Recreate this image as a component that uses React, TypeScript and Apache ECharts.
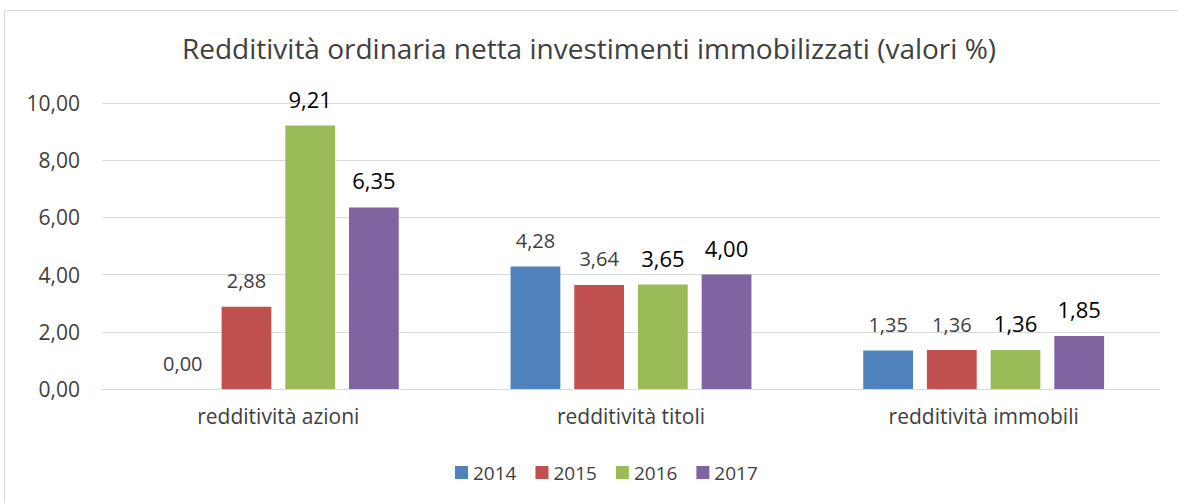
import React, { useEffect, useRef } from "react";
import * as echarts from "echarts";

const categories = ["redditività azioni", "redditività titoli", "redditività immobili"];
const years = ["2014", "2015", "2016", "2017"];
const values2014 = [0.0, 4.28, 1.35];
const values2015 = [2.88, 3.64, 1.36];
const values2016 = [9.21, 3.65, 1.36];
const values2017 = [6.35, 4.0, 1.85];
const colors = ["#4f81bd", "#c0504d", "#9bbb59", "#8064a2"];
const yTicks = { min: 0, max: 10, interval: 2 };

const FONT = "'Open Sans', 'Noto Sans', sans-serif";
const fmt = (v: number) => v.toFixed(2).replace(".", ",");

export default function App() {
  const ref = useRef<HTMLDivElement>(null);
  useEffect(() => {
    if (!ref.current) return;
    const chart = echarts.init(ref.current, undefined, { renderer: "svg" });
    const seriesData = [values2014, values2015, values2016, values2017];
    chart.setOption({
      animation: false,
      backgroundColor: "#ffffff",
      textStyle: { fontFamily: FONT },
      title: {
        text: "Redditività ordinaria netta investimenti immobilizzati (valori %)",
        left: "center",
        top: 29,
        textStyle: { fontFamily: FONT, fontSize: 28, fontWeight: "normal", color: "#404040" },
      },
      graphic: [
        {
          type: "rect",
          shape: { x: 4.5, y: 10.5, width: 1190, height: 520 },
          style: { fill: "none", stroke: "#d9d9d9", lineWidth: 1 },
          silent: true,
        },
      ],
      legend: {
        data: years,
        bottom: 16,
        left: 450,
        itemWidth: 13,
        itemHeight: 13,
        itemGap: 19,
        icon: "rect",
        textStyle: { fontFamily: FONT, fontSize: 19, color: "#404040" },
      },
      grid: { left: 102, right: 18, top: 103, bottom: 114 },
      xAxis: {
        type: "category",
        data: categories,
        axisLine: { show: true, lineStyle: { color: "#d9d9d9" } },
        axisTick: { show: false },
        axisLabel: { fontFamily: FONT, fontSize: 21, color: "#404040", margin: 16 },
      },
      yAxis: {
        type: "value",
        min: yTicks.min,
        max: yTicks.max,
        interval: yTicks.interval,
        axisLine: { show: false },
        axisTick: { show: false },
        splitLine: { lineStyle: { color: "#d9d9d9", width: 1 } },
        axisLabel: {
          fontFamily: FONT,
          fontSize: 21,
          color: "#404040",
          margin: 22,
          formatter: (v: number) => fmt(v),
        },
      },
      series: years.map((y, i) => ({
        name: y,
        type: "bar",
        data: seriesData[i],
        barGap: "28%",
        barCategoryGap: "31.7%",
        itemStyle: { color: colors[i] },
        label: {
          show: true,
          position: "top",
          distance: 16,
          fontFamily: FONT,
          fontSize: i < 2 ? 20 : 22,
          color: i < 2 ? "#404040" : "#000000",
          formatter: (p: any) => fmt(p.value),
        },
      })),
    });
    return () => chart.dispose();
  }, []);
  return (
    <div
      ref={ref}
      style={{ position: "fixed", left: 0, top: 0, width: 1178, height: 503 }}
    />
  );
}
